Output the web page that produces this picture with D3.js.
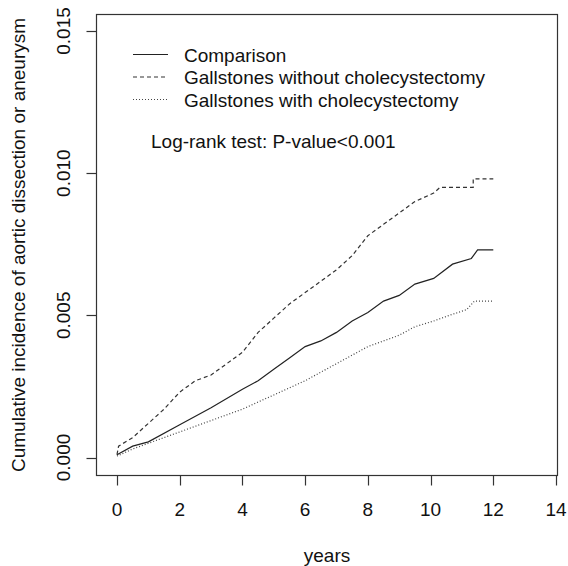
<!DOCTYPE html>
<html>
<head>
<meta charset="utf-8">
<script src="https://cdn.jsdelivr.net/npm/d3@7"></script>
<style>
  body { margin: 0; background: #fff; }
  text { font-family: "Liberation Sans", Arial, sans-serif; fill: #111; }
</style>
</head>
<body>
<div id="chart"></div>
<script>
var width = 568, height = 566;

// series (years, cumulative incidence)
var compT = [0, 0.5, 1, 2, 3, 4, 4.5, 5, 5.5, 6, 6.5, 7, 7.5, 8, 8.5, 9, 9.5, 10.1, 10.7, 11.3, 11.5, 12];
var compV = [0.0001, 0.0004, 0.00055, 0.00115, 0.00175, 0.0024, 0.0027, 0.0031, 0.0035, 0.0039, 0.0041, 0.0044, 0.0048, 0.0051, 0.0055, 0.0057, 0.0061, 0.0063, 0.0068, 0.0070, 0.0073, 0.0073];

var withoutT = [0, 0.05, 0.5, 1, 1.5, 2, 2.5, 3, 3.5, 4, 4.5, 5, 5.5, 6, 6.5, 7, 7.5, 8, 8.5, 9, 9.5, 10.1, 10.3, 11.36, 11.36, 12];
var withoutV = [0.0001, 0.0004, 0.0007, 0.0012, 0.0017, 0.0023, 0.0027, 0.0029, 0.0033, 0.0037, 0.0044, 0.0049, 0.0054, 0.0058, 0.0062, 0.0066, 0.0071, 0.0078, 0.0082, 0.0086, 0.0090, 0.0093, 0.0095, 0.0095, 0.0098, 0.0098];

var withT = [0, 0.5, 1, 2, 3, 4, 5, 6, 7, 7.5, 8, 8.5, 9, 9.5, 10.1, 10.6, 11.15, 11.4, 12];
var withV = [0.00005, 0.0003, 0.0005, 0.0009, 0.0013, 0.0017, 0.0022, 0.0027, 0.0033, 0.0036, 0.0039, 0.0041, 0.0043, 0.0046, 0.0048, 0.0050, 0.0052, 0.0055, 0.0055];

var xTicks = [0, 2, 4, 6, 8, 10, 12, 14];
var yTicks = [0, 0.005, 0.010, 0.015];
var legendLabels = ["Comparison", "Gallstones without cholecystectomy", "Gallstones with cholecystectomy"];
var testLabel = "Log-rank test: P-value<0.001";

var box = {left: 96.5, right: 557.5, top: 14.5, bottom: 475.5};

var x = d3.scaleLinear().domain([0, 14]).range([117, 556]);
var y = d3.scaleLinear().domain([0, 0.015]).range([457.5, 31]);

var svg = d3.select("#chart").append("svg").attr("width", width).attr("height", height);

svg.append("rect")
  .attr("x", box.left).attr("y", box.top)
  .attr("width", box.right - box.left).attr("height", box.bottom - box.top)
  .attr("fill", "none").attr("stroke", "#333").attr("stroke-width", 1.2);

// x axis
var xg = svg.append("g");
xg.selectAll("line").data(xTicks).enter().append("line")
  .attr("x1", d => Math.round(x(d)) + 0.5).attr("x2", d => Math.round(x(d)) + 0.5)
  .attr("y1", box.bottom).attr("y2", box.bottom + 10)
  .attr("stroke", "#333").attr("stroke-width", 1.2);
xg.selectAll("text").data(xTicks).enter().append("text")
  .attr("x", d => x(d)).attr("y", 516)
  .attr("text-anchor", "middle").attr("font-size", 19)
  .text(d => d);

// y axis
var yg = svg.append("g");
yg.selectAll("line").data(yTicks).enter().append("line")
  .attr("x1", box.left - 10).attr("x2", box.left)
  .attr("y1", d => Math.round(y(d)) + 0.5).attr("y2", d => Math.round(y(d)) + 0.5)
  .attr("stroke", "#333").attr("stroke-width", 1.2);
yg.selectAll("text").data(yTicks).enter().append("text")
  .attr("transform", d => "translate(70," + y(d) + ") rotate(-90)")
  .attr("text-anchor", "middle").attr("font-size", 19)
  .text(d => d3.format(".3f")(d));

svg.append("text")
  .attr("x", (box.left + box.right) / 2).attr("y", 562)
  .attr("text-anchor", "middle").attr("font-size", 19)
  .text("years");

svg.append("text")
  .attr("transform", "translate(25," + ((box.top + box.bottom) / 2) + ") rotate(-90)")
  .attr("text-anchor", "middle").attr("font-size", 19)
  .text("Cumulative incidence of aortic dissection or aneurysm");

// curves
var series = [
  {t: compT, v: compV, dash: null, color: "#222"},
  {t: withoutT, v: withoutV, dash: "4,3", color: "#333"},
  {t: withT, v: withV, dash: "1,2", color: "#444"}
];

var line = d3.line().x(d => x(d[0])).y(d => y(d[1]));

series.forEach(function(s) {
  var pts = s.t.map((t, i) => [t, s.v[i]]);
  svg.append("path")
    .attr("d", line(pts))
    .attr("fill", "none")
    .attr("stroke", s.color)
    .attr("stroke-width", 1.2)
    .attr("stroke-dasharray", s.dash);
});

// legend
var lg = svg.append("g");
var rowY = [54.5, 77, 99.5];
legendLabels.forEach(function(lab, i) {
  lg.append("line")
    .attr("x1", 133).attr("x2", 168)
    .attr("y1", rowY[i]).attr("y2", rowY[i])
    .attr("stroke", series[i].color).attr("stroke-width", 1.2)
    .attr("stroke-dasharray", series[i].dash);
  lg.append("text")
    .attr("x", 184).attr("y", rowY[i] + 7)
    .attr("font-size", 19)
    .text(lab);
});

svg.append("text")
  .attr("x", 151).attr("y", 148)
  .attr("font-size", 19)
  .text(testLabel);
</script>
</body>
</html>
